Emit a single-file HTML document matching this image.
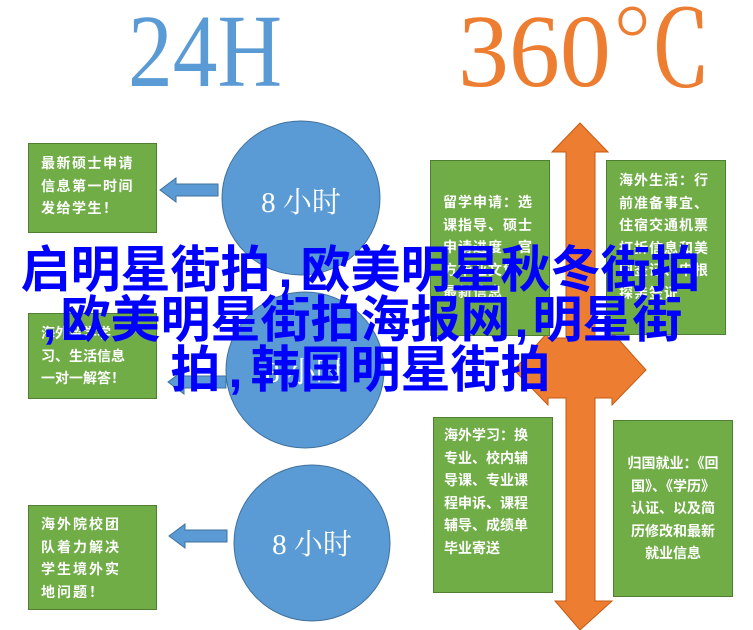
<!DOCTYPE html>
<html><head><meta charset="utf-8">
<style>
html,body{margin:0;padding:0;background:#fff;}
#c{position:relative;width:753px;height:630px;overflow:hidden;background:#fff;}
.t{position:absolute;font-family:"Liberation Serif","Noto Serif CJK SC",serif;transform-origin:left top;}
.box{position:absolute;background:#70AD47;border:1px solid #507E32;box-sizing:border-box;color:#fff;font-family:"Liberation Sans","Noto Sans CJK SC",sans-serif;font-weight:bold;font-size:14px;line-height:22.5px;}
.ct{position:absolute;color:#fff;font-family:"Liberation Serif","Noto Serif CJK SC",serif;font-size:29px;width:160px;text-align:center;}
.ov{position:absolute;left:-16px;width:753px;text-align:center;color:#0000ff;font-family:"Liberation Sans","Noto Sans CJK SC",sans-serif;font-weight:bold;font-size:50px;line-height:50px;white-space:nowrap;}
.c8{margin:0 8px;} .c4{margin:0 4px;}
</style></head><body><div id="c">
<div class="t" style="left:128px;top:2px;font-size:104px;color:#5B9BD5;transform:scaleX(0.86);line-height:100px;">24H</div>
<div class="t" style="left:458px;top:2px;font-size:104px;color:#ED7D31;transform:scaleX(0.98);line-height:100px;">360℃</div>

<svg style="position:absolute;left:0;top:0" width="753" height="630">
<g fill="#5B9BD5" stroke="#41719C" stroke-width="1">
<ellipse cx="301" cy="198" rx="79" ry="77"/>
<ellipse cx="305" cy="370" rx="79" ry="78"/>
<ellipse cx="312" cy="543" rx="78" ry="78"/>
<polygon points="218,184 176,184 176,178 160,190 176,202 176,196 218,196"/>
<polygon points="226,376 184,376 184,370 168,382 184,394 184,388 226,388"/>
<polygon points="227,530 185,530 185,524 169,536 185,548 185,542 227,542"/>
</g>
<polygon fill="#ED7D31" stroke="#C55A11" stroke-width="1" points="580,123 608,152 595,152 595,338 612,338 612,332 646,370 612,405 612,398 595,398 595,601 612,601 580,630 555,601 566,601 566,398 548,398 548,405 514,370 548,332 548,338 566,338 566,152 552,152"/>
</svg>

<div class="box" style="left:28px;top:143px;width:129px;height:90px;padding:8px 0 0 12px;letter-spacing:1.5px;">最新硕士申请<br>信息第一时间<br>发给学生！</div>
<div class="box" style="left:28px;top:313px;width:129px;height:86px;padding:8px 0 0 12px;">海外留学学<br>习、生活信息<br>一对一解答！</div>
<div class="box" style="left:28px;top:505px;width:129px;height:105px;padding:7px 0 0 12px;letter-spacing:2px;">海外院校团<br>队着力解决<br>学生境外实<br>地问题！</div>

<div class="box" style="left:430px;top:160px;width:120px;height:176px;padding:30px 0 0 12px;letter-spacing:1px;">留学申请：选<br>课指导、硕士<br>申请进度、官<br>方毕业文凭<br>最新信息</div>
<div class="box" style="left:606px;top:160px;width:120px;height:175px;padding:8px 0 0 12px;letter-spacing:1px;">海外生活：行<br>前准备事宜、<br>住宿交通机票<br>打折信息和美<br>国签证、申根<br>探亲签证</div>
<div class="box" style="left:433px;top:417px;width:120px;height:176px;padding:6px 0 0 10px;">海外学习：换<br>专业、校内辅<br>导课、专业课<br>程申诉、课程<br>辅导、成绩单<br>毕业寄送</div>
<div class="box" style="left:613px;top:420px;width:120px;height:177px;padding:31px 0 0 0;text-align:center;">归国就业：《回<br>国》、《学历》<br>认证、以及简<br>历修改和最新<br>就业信息</div>

<div class="ct" style="left:221px;top:180px;">8 小时</div>
<div class="ct" style="left:225px;top:350px;">8 小时</div>
<div class="ct" style="left:232px;top:522px;">8 小时</div>

<div class="ov" style="top:245px;">启明星街拍<span class="c8">,</span>欧美明星秋冬街拍</div>
<div class="ov" style="top:295px;"><span class="c4">,</span>欧美明星街拍海报网<span class="c4">,</span>明星街</div>
<div class="ov" style="top:345px;">拍<span class="c8">,</span>韩国明星街拍</div>
</div></body></html>
